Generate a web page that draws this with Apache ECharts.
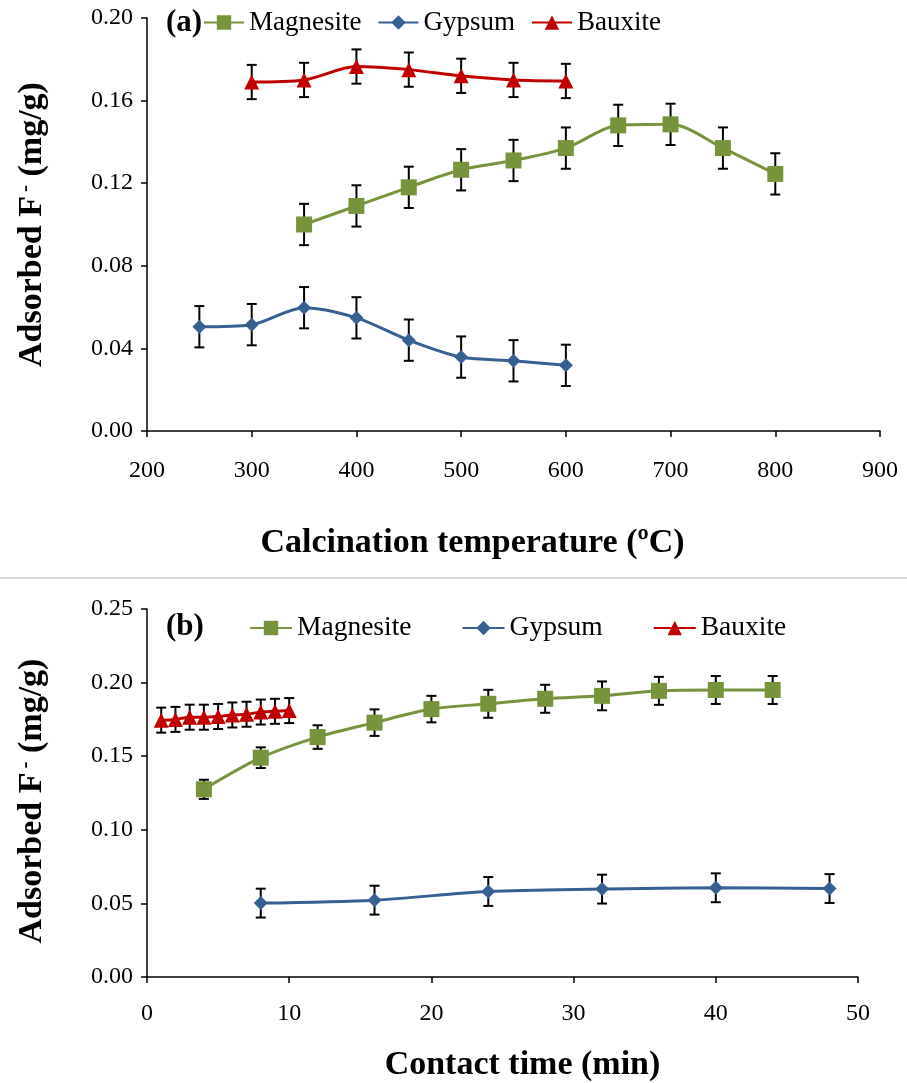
<!DOCTYPE html>
<html>
<head>
<meta charset="utf-8">
<script src="https://cdn.jsdelivr.net/npm/echarts@6/dist/echarts.min.js"></script>
<style>
  html, body { margin: 0; padding: 0; background: #fff; }
  #main { width: 907px; height: 1083px; }
</style>
</head>
<body>
<div id="main"></div>
<script>
// panel (a): calcination temperature
var magTempA = [350, 400, 450, 500, 550, 600, 650, 700, 750, 800];
var magAdsA  = [0.100, 0.109, 0.118, 0.1265, 0.131, 0.137, 0.148, 0.1485, 0.137, 0.1245];
var magErrA  = [0.010, 0.010, 0.010, 0.010, 0.010, 0.010, 0.010, 0.010, 0.010, 0.010];
var gypTempA = [250, 300, 350, 400, 450, 500, 550, 600];
var gypAdsA  = [0.0505, 0.0515, 0.0597, 0.0548, 0.0440, 0.0358, 0.0340, 0.0318];
var gypErrA  = [0.010, 0.010, 0.010, 0.010, 0.010, 0.010, 0.010, 0.010];
var bauTempA = [300, 350, 400, 450, 500, 550, 600];
var bauAdsA  = [0.169, 0.170, 0.1765, 0.175, 0.172, 0.170, 0.1695];
var bauErrA  = [0.0083, 0.0083, 0.0083, 0.0083, 0.0083, 0.0083, 0.0083];

// panel (b): contact time
var magTimeB = [4, 8, 12, 16, 20, 24, 28, 32, 36, 40, 44];
var magAdsB  = [0.1275, 0.149, 0.163, 0.1728, 0.182, 0.1856, 0.189, 0.191, 0.1944, 0.195, 0.195];
var magErrB  = [0.0065, 0.007, 0.008, 0.009, 0.009, 0.0095, 0.0095, 0.0098, 0.0095, 0.0095, 0.0095];
var gypTimeB = [8, 16, 24, 32, 40, 48];
var gypAdsB  = [0.0502, 0.0522, 0.0581, 0.0597, 0.0606, 0.0601];
var gypErrB  = [0.0098, 0.0098, 0.0098, 0.0098, 0.0098, 0.0098];
var bauTimeB = [1, 2, 3, 4, 5, 6, 7, 8, 9, 10];
var bauAdsB  = [0.1745, 0.175, 0.1765, 0.1765, 0.177, 0.178, 0.1785, 0.180, 0.1805, 0.181];
var bauErrB  = [0.0085, 0.0085, 0.0085, 0.0085, 0.0085, 0.0085, 0.0085, 0.0085, 0.0085, 0.0085];

var names = ['Magnesite', 'Gypsum', 'Bauxite'];
var colors = {Magnesite: '#77933c', Gypsum: '#376092', Bauxite: '#c00000'};
var symbols = {Magnesite: 'rect', Gypsum: 'diamond', Bauxite: 'triangle'};
var symSizes = {Magnesite: 16, Gypsum: 14, Bauxite: 15};
var font = 'Liberation Serif';

function pairs(xs, ys) {
    var out = [];
    for (var i = 0; i < xs.length; i++) out.push([xs[i], ys[i]]);
    return out;
}
function triples(xs, ys, es) {
    var out = [];
    for (var i = 0; i < xs.length; i++) out.push([xs[i], ys[i], es[i]]);
    return out;
}

function errRender(params, api) {
    var x = api.value(0), y = api.value(1), e = api.value(2);
    var hi = api.coord([x, y + e]);
    var lo = api.coord([x, y - e]);
    var w = 5;
    var st = {stroke: '#000', lineWidth: 2};
    return {
        type: 'group',
        children: [
            {type: 'line', shape: {x1: hi[0], y1: hi[1], x2: lo[0], y2: lo[1]}, style: st},
            {type: 'line', shape: {x1: hi[0] - w, y1: hi[1], x2: hi[0] + w, y2: hi[1]}, style: st},
            {type: 'line', shape: {x1: lo[0] - w, y1: lo[1], x2: lo[0] + w, y2: lo[1]}, style: st}
        ]
    };
}

function lineSeries(name, idx, xs, ys) {
    return {
        name: name,
        type: 'line',
        xAxisIndex: idx,
        yAxisIndex: idx,
        smooth: 0.3,
        symbol: symbols[name],
        symbolSize: symSizes[name],
        showAllSymbol: true,
        lineStyle: {color: colors[name], width: 3},
        itemStyle: {color: colors[name]},
        z: 3,
        data: pairs(xs, ys)
    };
}
function errSeries(name, idx, xs, ys, es) {
    return {
        name: name + ' err',
        type: 'custom',
        xAxisIndex: idx,
        yAxisIndex: idx,
        renderItem: errRender,
        encode: {x: 0, y: [1, 2]},
        silent: true,
        z: 2,
        data: triples(xs, ys, es)
    };
}

var axisLine = {show: true, lineStyle: {color: '#000', width: 1.5}};
var axisTick = {show: true, inside: false, length: 6, lineStyle: {color: '#000', width: 1.5}};
var labelStyle = {color: '#000', fontFamily: font, fontSize: 24};
function nameStyle(pad) {
    return {
        color: '#000', fontFamily: font, fontSize: 34, fontWeight: 'bold', padding: pad,
        rich: {
            s: {color: '#000', fontFamily: font, fontSize: 21, fontWeight: 'bold', verticalAlign: 'top', padding: [0, 0, 0, 4]}
        }
    };
}

var option = {
    backgroundColor: '#fff',
    animation: false,
    title: [
        {text: '(a)', left: 161, top: 2, textStyle: {fontFamily: font, fontSize: 31, fontWeight: 'bold', color: '#000'}},
        {text: '(b)', left: 161, top: 606, textStyle: {fontFamily: font, fontSize: 31, fontWeight: 'bold', color: '#000'}}
    ],
    legend: [
        {
            data: names, left: 198, top: 4, itemWidth: 40, itemHeight: 18, itemGap: 16,
            textStyle: {fontFamily: font, fontSize: 27, color: '#000'}
        },
        {
            data: names, left: 244, top: 609, itemWidth: 42, itemHeight: 18, itemGap: 50,
            textStyle: {fontFamily: font, fontSize: 27.5, color: '#000'}
        }
    ],
    grid: [
        {left: 147, top: 18, width: 733, height: 413},
        {left: 147, top: 609, width: 711, height: 370}
    ],
    xAxis: [
        {
            type: 'value', gridIndex: 0, min: 200, max: 900, interval: 100,
            name: 'Calcination temperature (ºC)', nameLocation: 'middle', nameGap: 95,
            nameTextStyle: nameStyle([0, 82, 0, 0]),
            axisLine: axisLine, axisTick: axisTick, splitLine: {show: false},
            axisLabel: Object.assign({margin: 28}, labelStyle)
        },
        {
            type: 'value', gridIndex: 1, min: 0, max: 50, interval: 10,
            name: 'Contact time (min)', nameLocation: 'middle', nameGap: 71,
            nameTextStyle: nameStyle([0, 0, 0, 40]),
            axisLine: axisLine, axisTick: axisTick, splitLine: {show: false},
            axisLabel: Object.assign({margin: 25}, labelStyle)
        }
    ],
    yAxis: [
        {
            type: 'value', gridIndex: 0, min: 0, max: 0.2, interval: 0.04,
            name: 'Adsorbed F{s|-} (mg/g)', nameLocation: 'middle', nameGap: 98,
            nameTextStyle: nameStyle(0),
            axisLine: axisLine, axisTick: axisTick, splitLine: {show: false},
            axisLabel: Object.assign({margin: 14, formatter: function (v) { return v.toFixed(2); }}, labelStyle)
        },
        {
            type: 'value', gridIndex: 1, min: 0, max: 0.25, interval: 0.05,
            name: 'Adsorbed F{s|-} (mg/g)', nameLocation: 'middle', nameGap: 98,
            nameTextStyle: nameStyle([0, 16, 0, 0]),
            axisLine: axisLine, axisTick: axisTick, splitLine: {show: false},
            axisLabel: Object.assign({margin: 14, formatter: function (v) { return v.toFixed(2); }}, labelStyle)
        }
    ],
    graphic: [
        {type: 'line', shape: {x1: 0, y1: 578, x2: 907, y2: 578}, style: {stroke: '#d9d9d9', lineWidth: 2}}
    ],
    series: [
        errSeries('Magnesite', 0, magTempA, magAdsA, magErrA),
        errSeries('Gypsum', 0, gypTempA, gypAdsA, gypErrA),
        errSeries('Bauxite', 0, bauTempA, bauAdsA, bauErrA),
        lineSeries('Magnesite', 0, magTempA, magAdsA),
        lineSeries('Gypsum', 0, gypTempA, gypAdsA),
        lineSeries('Bauxite', 0, bauTempA, bauAdsA),
        errSeries('Magnesite', 1, magTimeB, magAdsB, magErrB),
        errSeries('Gypsum', 1, gypTimeB, gypAdsB, gypErrB),
        errSeries('Bauxite', 1, bauTimeB, bauAdsB, bauErrB),
        lineSeries('Magnesite', 1, magTimeB, magAdsB),
        lineSeries('Gypsum', 1, gypTimeB, gypAdsB),
        lineSeries('Bauxite', 1, bauTimeB, bauAdsB)
    ]
};

var chart = echarts.init(document.getElementById('main'));
chart.setOption(option);
</script>
</body>
</html>
